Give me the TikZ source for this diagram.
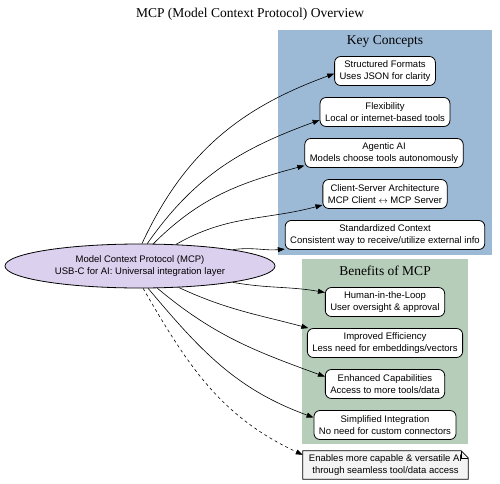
\documentclass[tikz,border=0pt]{standalone}
\usepackage{fontspec}
\setmainfont{Liberation Serif}
\newfontfamily\boxfont{Liberation Sans}
\usetikzlibrary{shapes.geometric,arrows.meta,backgrounds}
\definecolor{keyblue}{HTML}{9CB9D6}
\definecolor{benefitgreen}{HTML}{B5CDB9}
\definecolor{mcplilac}{HTML}{DCD0EF}
\definecolor{notegray}{HTML}{F4F4F4}

\begin{document}
\begin{tikzpicture}[x=1pt, y=1pt,
        concept/.style={draw, fill=white, rounded corners=6pt, line width=0.8pt, align=center,
            font=\boxfont\fontsize{9.5}{11.5}\selectfont, minimum height=29pt, inner xsep=5pt},
        link/.style={-{Triangle[length=7pt,width=5pt]}, line width=0.6pt},
        heading/.style={font=\fontsize{13.5}{16}\selectfont}
    ]
        \useasboundingbox (0,0) rectangle (500,483);

        \fill[keyblue] (278,228) rectangle (492,453);
        \fill[benefitgreen] (302,39) rectangle (468,224);

        \node[heading] (title) at (250,469) {MCP (Model Context Protocol) Overview};
        \node[heading] (keyhead) at (385,442) {Key Concepts};
        \node[heading] (benhead) at (385,212) {Benefits of MCP};

        \node[ellipse, draw, fill=mcplilac, line width=0.8pt, minimum width=270pt, minimum height=44pt,
            inner sep=0pt, align=center, font=\boxfont\fontsize{9.5}{11.5}\selectfont]
            (mcp) at (140,217) {Model Context Protocol (MCP)\\USB-C for AI: Universal integration layer};

        \node[concept] (formats) at (385,412) {Structured Formats\\Uses JSON for clarity};
        \node[concept] (flex) at (385,371) {Flexibility\\Local or internet-based tools};
        \node[concept] (agentic) at (384,330) {Agentic AI\\Models choose tools autonomously};
        \node[concept] (clisrv) at (385,289) {Client-Server Architecture\\MCP Client \(\leftrightarrow\) MCP Server};
        \node[concept] (context) at (385,248) {Standardized Context\\Consistent way to receive/utilize external info};

        \node[concept] (loop) at (385,181) {Human-in-the-Loop\\User oversight \& approval};
        \node[concept] (effic) at (385,140) {Improved Efficiency\\Less need for embeddings/vectors};
        \node[concept] (capab) at (385,99) {Enhanced Capabilities\\Access to more tools/data};
        \node[concept] (integ) at (385,58) {Simplified Integration\\No need for custom connectors};

        \node[align=center, minimum width=165pt, minimum height=28pt, inner sep=0pt,
            font=\boxfont\fontsize{9.5}{11.5}\selectfont]
            (summary) at (385.5,18) {Enables more capable \& versatile AI\\through seamless tool/data access};
        \begin{pgfonlayer}{background}
            \filldraw[fill=notegray, line width=0.8pt] (summary.south west) -- (summary.north west)
                -- ([xshift=-7pt]summary.north east) -- ([yshift=-7pt]summary.north east)
                -- (summary.south east) -- cycle;
            \draw[line width=0.6pt] ([xshift=-7pt]summary.north east) -- ([xshift=-7pt,yshift=-7pt]summary.north east)
                -- ([yshift=-7pt]summary.north east);
        \end{pgfonlayer}

        \draw[link] (mcp.85) to[out=65, in=200] (formats.183);
        \draw[link] (mcp.72) to[out=55, in=200] (flex.187);
        \draw[link] (mcp.59) to[out=45, in=195] (agentic.189);
        \draw[link] (mcp.31) to[out=30, in=195] (clisrv.190);
        \draw[link] (mcp.10) to[out=8, in=185] (context.188);

        \draw[link] (mcp.-10) to[out=-10, in=170] (loop.171);
        \draw[link] (mcp.-29) to[out=-25, in=165] (effic.169);
        \draw[link] (mcp.-52) to[out=-40, in=160] (capab.173);
        \draw[link] (mcp.-70) to[out=-50, in=160] (integ.174);
        \draw[link, dashed] (mcp.-82) to[out=-60, in=155] (summary.173);
    \end{tikzpicture}
\end{document}
